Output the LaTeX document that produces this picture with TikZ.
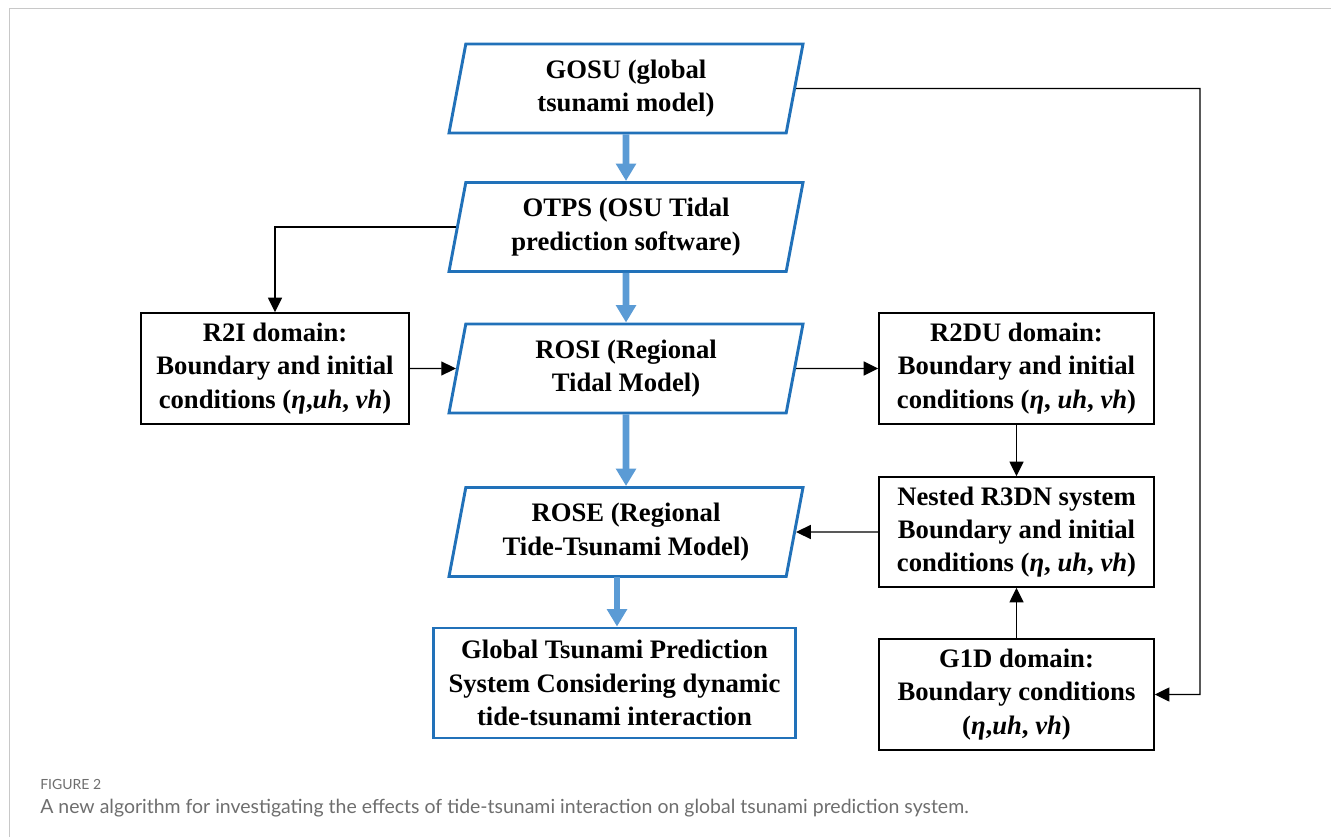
\documentclass[tikz,border=0pt]{standalone}
\usepackage{fontspec}
\setmainfont{Liberation Serif}
\newfontfamily\capfont{Lato}
\usetikzlibrary{shapes.geometric,arrows.meta,calc}
\definecolor{pblue}{HTML}{2171B9}
\definecolor{ablue}{HTML}{5B9BD5}
\definecolor{capgray}{HTML}{6E6E6E}
\definecolor{framegray}{HTML}{C8C8C8}
\begin{document}
\begin{tikzpicture}[x=0.75pt,y=-0.75pt,
  txt/.style={font=\fontsize{20}{25}\selectfont\bfseries, align=center, inner sep=0pt},
  para/.style={txt, draw=pblue, line width=2.2pt, trapezium, trapezium left angle=73.7, trapezium right angle=106.3, minimum width=265.5pt, minimum height=66.75pt, trapezium stretches body},
  bbox/.style={txt, draw=black, line width=1.1pt, rectangle, minimum width=206.25pt, minimum height=83.25pt},
  flow/.style={ablue, line width=5pt, -{Triangle[width=14.5pt,length=13pt]}},
  link/.style={black, line width=1.1pt, -{Triangle[width=10.5pt,length=11pt]}}
]
\useasboundingbox (0,0) rectangle (1331,837);
\draw[framegray, line width=0.75pt] (9,837) -- (9,9) -- (1331,9);

\node[para] (GOSU) at (626,88.5) {GOSU (global\\tsunami model)};
\node[para] (OTPS) at (626,227) {OTPS (OSU Tidal\\prediction software)};
\node[para] (ROSI) at (626,368.5) {ROSI (Regional\\Tidal Model)};
\node[para] (ROSE) at (626,532) {ROSE (Regional\\Tide-Tsunami Model)};
\node[txt, draw=pblue, line width=2.2pt, minimum width=271.5pt, minimum height=82.5pt] (GTPS) at (614.5,683) {Global Tsunami Prediction\\System Considering dynamic\\tide-tsunami interaction};
\node[bbox, minimum width=201pt] (R2I) at (275,368.5) {R2I domain:\\Boundary and initial\\conditions (\textit{η},\textit{uh}, \textit{vh})};
\node[bbox] (R2DU) at (1016.5,368.5) {R2DU domain:\\Boundary and initial\\conditions (\textit{η}, \textit{uh}, \textit{vh})};
\node[bbox, minimum height=82.5pt] (R3DN) at (1016.5,532) {Nested R3DN system\\Boundary and initial\\conditions (\textit{η}, \textit{uh}, \textit{vh})};
\node[bbox] (G1D) at (1016.5,694.5) {G1D domain:\\Boundary conditions\\(\textit{η},\textit{uh}, \textit{vh})};

\coordinate (rc) at (1200,88.5);
\draw[link] (GOSU) -- (rc) |- (G1D);
\draw[link] (OTPS) -| (R2I);
\draw[link] (R2I) -- (ROSI);
\draw[link] (ROSI) -- (R2DU);
\draw[link] (R2DU) -- (R3DN);
\draw[link] (R3DN) -- (ROSE);
\draw[link] (G1D) -- (R3DN);

\draw[flow] (GOSU) -- (OTPS);
\draw[flow] (OTPS) -- (ROSI);
\draw[flow] (ROSI) -- (ROSE);
\coordinate (fa) at (617,577);
\draw[flow] (fa) -- (fa |- GTPS.north);

\node[anchor=base west, font=\capfont\fontsize{10.5}{12}\selectfont, text=capgray, inner sep=0pt] (fig) at (40,789) {FIGURE 2};
\node[anchor=base west, font=\capfont\fontsize{14.6}{17}\selectfont, text=capgray, inner sep=0pt] (cap) at (40,813) {A new algorithm for investigating the effects of tide-tsunami interaction on global tsunami prediction system.};
\end{tikzpicture}
\end{document}
